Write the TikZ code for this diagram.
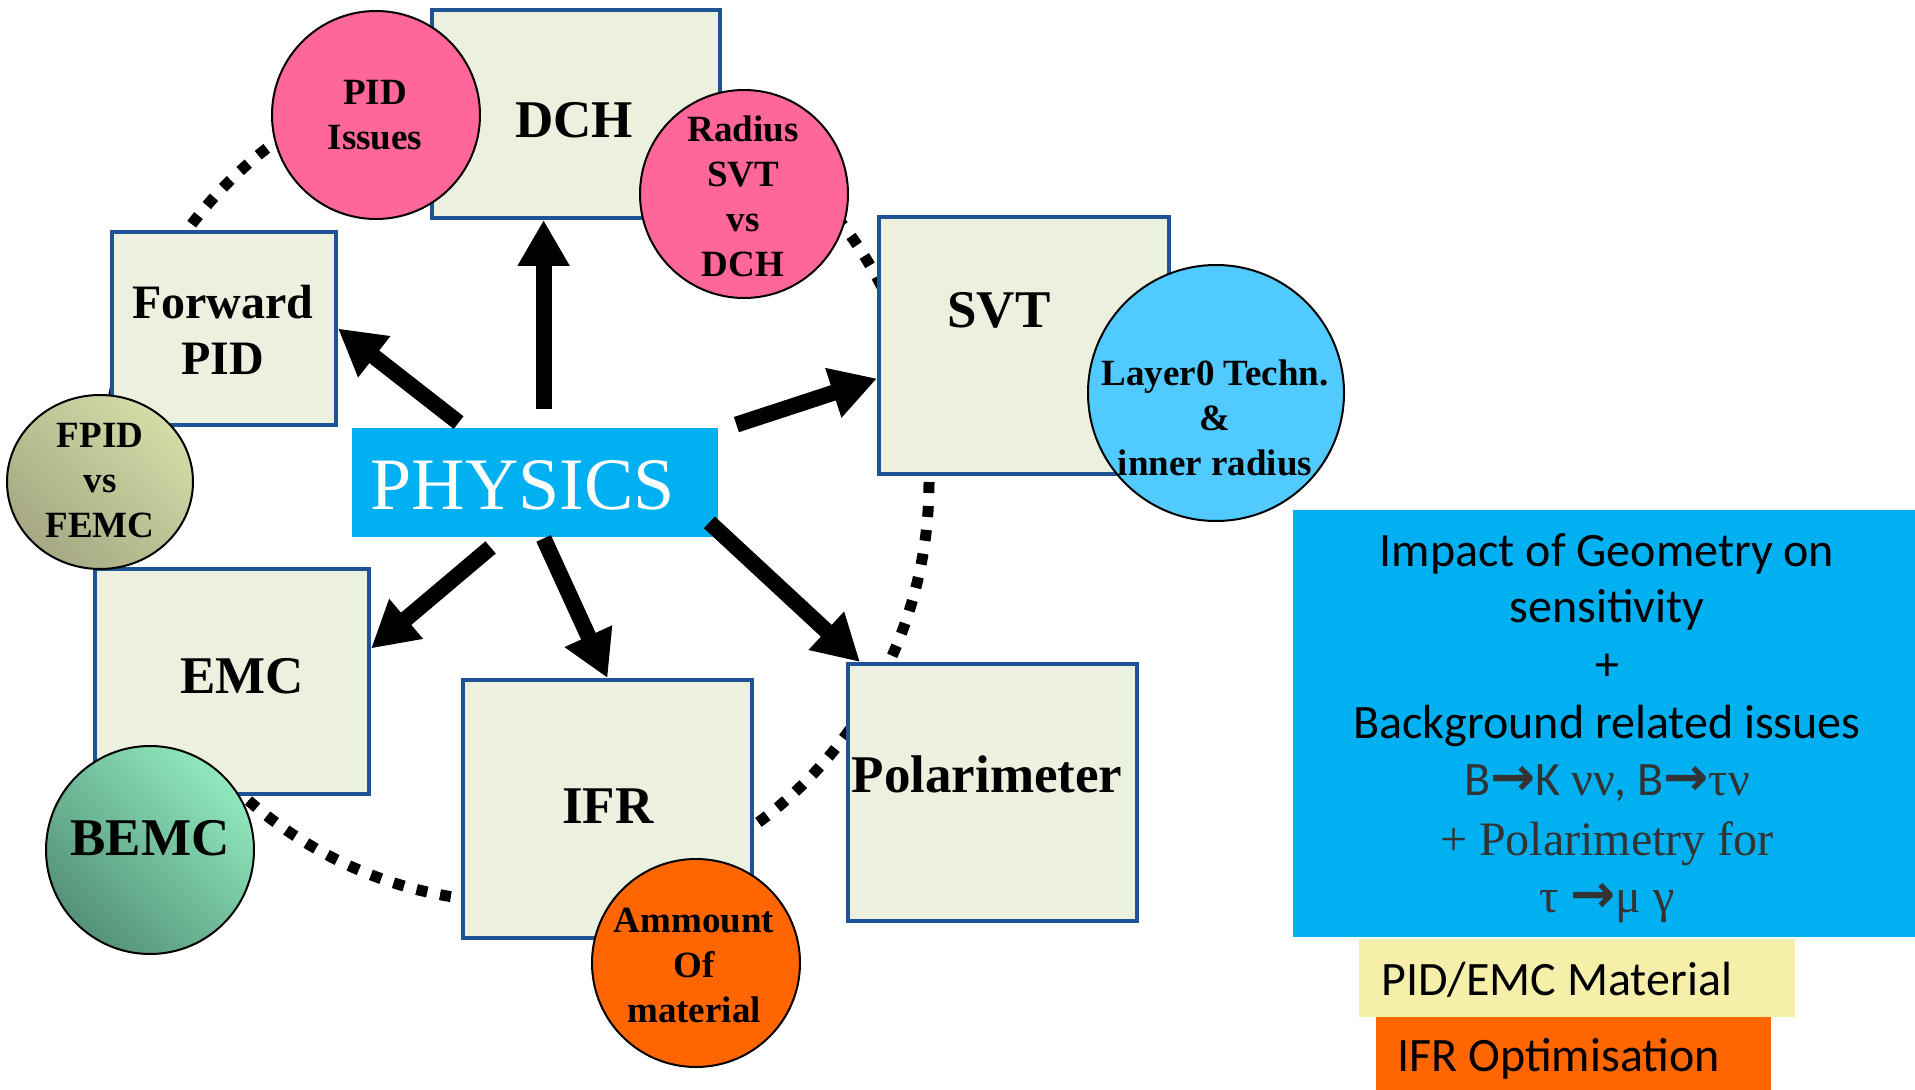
\documentclass[tikz,border=0pt]{standalone}
\usepackage{fontspec}
\setmainfont{Liberation Serif}
\newfontfamily\carlito{Carlito}
\newfontfamily\arrowfont{DejaVu Sans}
\usetikzlibrary{arrows.meta,calc,shapes.geometric,shadings}

\definecolor{boxblue}{HTML}{1E5496}
\definecolor{boxfill}{HTML}{EBF1DE}
\definecolor{physblue}{HTML}{00B0F0}
\definecolor{pidpink}{HTML}{FF6699}
\definecolor{layerblue}{HTML}{50CAFF}
\definecolor{matorange}{HTML}{FF6600}
\definecolor{pidyellow}{HTML}{F6EFAA}
\definecolor{greektext}{HTML}{333333}
\definecolor{fpidlight}{HTML}{DEE6AE}
\definecolor{fpiddark}{HTML}{9C9E7B}
\definecolor{fpidmid}{HTML}{BDC295}
\definecolor{bemclight}{HTML}{9CFACC}
\definecolor{bemcdark}{HTML}{48806A}
\definecolor{bemcmid}{HTML}{72BD9B}

% heavy arrow used inside the decay formulas
\newcommand{\decayto}{{\arrowfont\bfseries\fontsize{27}{28}\selectfont →}}

\begin{document}
\begin{tikzpicture}[x=0.5pt, y=-0.5pt,
  unitbox/.style={rectangle, draw=boxblue, line width=2pt, fill=boxfill, inner sep=0pt},
  topic/.style={circle, draw=black, line width=1pt, inner sep=0pt, minimum size=104pt},
  bigname/.style={font=\bfseries\fontsize{26.5}{31}\selectfont, inner sep=0pt},
  midname/.style={font=\bfseries\fontsize{24}{28}\selectfont, align=center, inner sep=0pt},
  topicname/.style={font=\bfseries\fontsize{18.5}{22.5}\selectfont, align=center, inner sep=0pt},
  feed/.style={line width=8pt, -{Triangle[length=23pt,width=24.5pt]}},
  ring/.style={line width=5.5pt, dash pattern=on 5.5pt off 6.5pt},
  infoline/.style={anchor=base, inner sep=0pt, font=\carlito\fontsize{24}{28}\selectfont},
  tagline/.style={anchor=base west, inner sep=0pt, font=\carlito\fontsize{24}{28}\selectfont},
]
\useasboundingbox (0,0) rectangle (1915,1090);

% dotted ring linking the sub-detectors (behind everything)
\draw[ring] (517,482) ellipse [x radius=412, y radius=420];

% sub-detector boxes
\node[unitbox, minimum width=144pt, minimum height=104pt] (dch) at (576,114) {};
\node[unitbox, minimum width=112pt, minimum height=96.5pt] (fwd) at (224,328.5) {};
\node[unitbox, minimum width=145pt, minimum height=128.5pt] (svt) at (1024,345.5) {};
\node[unitbox, minimum width=137pt, minimum height=112.5pt] (emc) at (232,681.5) {};
\node[unitbox, minimum width=144.5pt, minimum height=129pt] (ifr) at (607.5,809) {};
\node[unitbox, minimum width=144.5pt, minimum height=128.5pt] (pol) at (992.5,792.5) {};

\node[bigname] (dchT) at (574,120) {DCH};
\node[midname] (fwdT) at (223,330) {Forward\\PID};
\node[bigname] (svtT) at (999,310) {SVT};
\node[bigname] (emcT) at (242,676) {EMC};
\node[bigname] (ifrT) at (608,806) {IFR};
\node[bigname] (polT) at (987,774) {Polarimeter};

% open issues attached to the boxes
\node[topic, fill=pidpink] (pidc) at (376,115) {};
\node[topicname] (pidcT) at (375,115) {PID\\Issues};
\node[topic, fill=pidpink] (radc) at (744,194) {};
\node[topicname] (radcT) at (743,196) {Radius\\SVT\\vs\\DCH};
\node[topic, fill=layerblue, minimum size=128pt] (layc) at (1216,393) {};
\node[topicname] (laycT) at (1215,418) {Layer0 Techn.\\\&\\inner radius};
\node[ellipse, draw=black, line width=1pt, inner sep=0pt, minimum width=93pt, minimum height=87pt,
      upper right=fpidlight, lower left=fpiddark,
      upper left=fpidmid, lower right=fpidmid] (fpc) at (100,482) {};
\node[topicname] (fpcT) at (100,481) {FPID\\vs\\FEMC};
\node[topic, upper right=bemclight, lower left=bemcdark,
      upper left=bemcmid, lower right=bemcmid] (bemc) at (150,850) {};
\node[bigname] (bemcT) at (150,838) {BEMC};
\node[topic, fill=matorange] (matc) at (696,963) {};
\node[topicname] (matcT) at (694,965) {Ammount\\Of\\material};

% physics drives every sub-detector
\node[fill=physblue, minimum width=183pt, minimum height=54.5pt, inner sep=0pt] (phys) at (535,482.5) {};
\node[text=white, font=\fontsize{37}{44}\selectfont, inner sep=0pt] (physT) at (523,485) {PHYSICS};

\coordinate (tFwd) at ($(phys.north west)+(107,-5)$);
\coordinate (tDch) at ($(phys.north west)+(192,-19)$);
\coordinate (tSvt) at ($(phys.north east)+(18,-3)$);
\coordinate (tPol) at ($(phys.south east)+(-9,-15)$);
\coordinate (tIfr) at ($(phys.south west)+(192,1)$);
\coordinate (tEmc) at ($(phys.south west)+(139,10)$);

\draw[feed] (tFwd) -- (fwd.east);
\draw[feed] (tDch) -- (tDch |- dch.south);
\draw[feed] (tSvt) -- ($(svt.west)+(0,33)$);
\draw[feed] (tPol) -- ($(pol.north west)+(14,0)$);
\draw[feed] (tIfr) -- (ifr.north);
\draw[feed] (tEmc) -- ($(emc.east)+(0,-33)$);

% summary panel
\node[fill=physblue, minimum width=311pt, minimum height=213.5pt, inner sep=0pt] (info) at (1604,723.5) {};
\node[infoline] (inf1) at (1607,566) {Impact of Geometry on};
\node[infoline] (inf2) at (1607,622) {sensitivity};
\node[infoline] (inf3) at (1607,680) {+};
\node[infoline] (inf4) at (1607,738) {Background related issues};
\node[infoline, text=greektext] (inf5) at (1607,795)
  {B\decayto K {\rmfamily νν}, B\decayto{\rmfamily τν}};
\node[infoline, text=greektext, font=\rmfamily\fontsize{24}{28}\selectfont] (inf6) at (1607,855) {+ Polarimetry for};
\node[infoline, text=greektext, font=\rmfamily\fontsize{24}{28}\selectfont] (inf7) at (1607,912)
  {τ \decayto μ γ};

\node[fill=pidyellow, minimum width=218pt, minimum height=39pt, inner sep=0pt] (keyA) at (1577,978) {};
\node[tagline] (keyAT) at (1381,995) {PID/EMC Material};
\node[fill=matorange, minimum width=197.5pt, minimum height=36.5pt, inner sep=0pt] (keyB) at (1573.5,1053.5) {};
\node[tagline] (keyBT) at (1397,1071) {IFR Optimisation};
\end{tikzpicture}
\end{document}
